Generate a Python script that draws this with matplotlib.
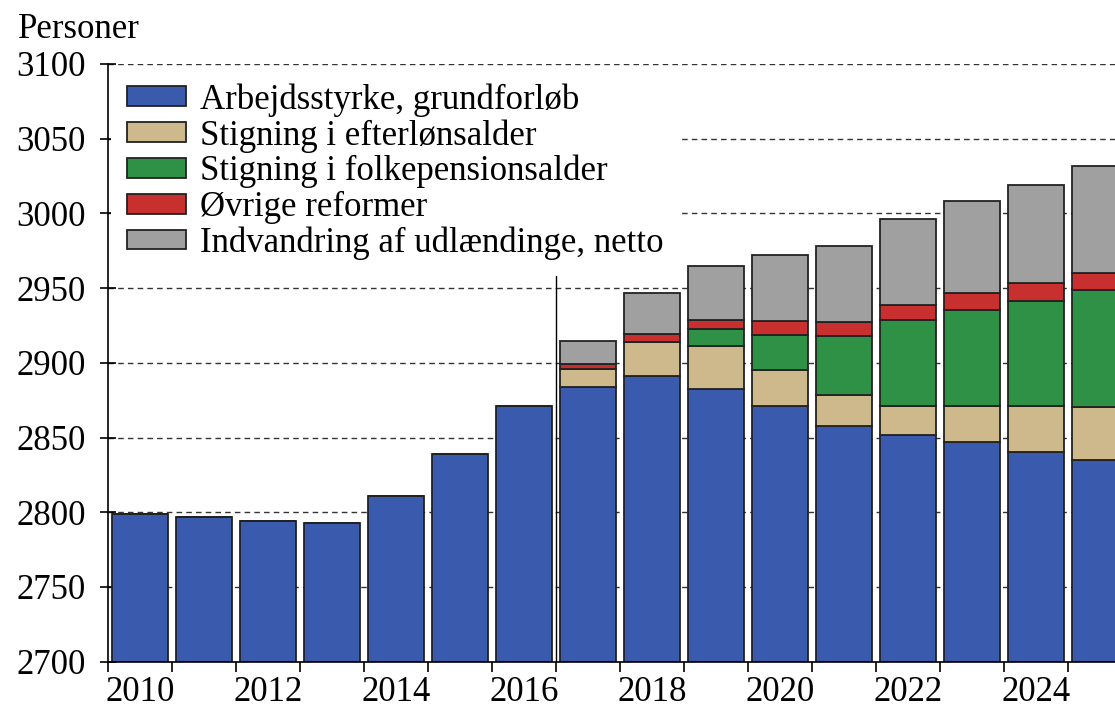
import numpy as np
import matplotlib.pyplot as plt

plt.rcParams['font.family'] = ['Liberation Serif', 'DejaVu Serif']

years = list(range(2010, 2026))

grundforlob = [2799, 2797, 2794, 2792.5, 2811, 2839, 2871, 2884, 2891.5, 2882.5,
               2871, 2858, 2852, 2847, 2840.5, 2835]
efterlon = [0, 0, 0, 0, 0, 0, 0, 12, 22.5, 28.5, 24, 20.5, 19, 24, 30.5, 35.5]
folkepension = [0, 0, 0, 0, 0, 0, 0, 0, 0, 11.5, 23.5, 39.5, 57.5, 64.5, 70.5, 78]
ovrige = [0, 0, 0, 0, 0, 0, 0, 3.5, 5, 6, 9.5, 9.5, 10.5, 11, 12, 11.5]
indvandring = [0, 0, 0, 0, 0, 0, 0, 15, 27.5, 36.5, 44, 50.5, 57.5, 62, 65.5, 72]

labels = ['Arbejdsstyrke, grundforløb', 'Stigning i efterlønsalder',
          'Stigning i folkepensionsalder', 'Øvrige reformer',
          'Indvandring af udlændinge, netto']
colors = ['#3A5AAD', '#CDB98C', '#2E9146', '#C83030', '#A0A0A0']

split_year = 2016.5
split_top = 2961

BASE = 2700
FS = 25

fig = plt.figure(figsize=(11.15, 7.09), dpi=100)
ax = fig.add_axes([108 / 1115, 1 - 661.7 / 709, 1024 / 1115, (661.7 - 64) / 709])

x = np.arange(len(years))
series = [np.array(grundforlob) - BASE, np.array(efterlon), np.array(folkepension),
          np.array(ovrige), np.array(indvandring)]
bottom = np.full(len(years), float(BASE))
handles = []
for vals, col, lab in zip(series, colors, labels):
    bars = ax.bar(x, vals, bottom=bottom, width=0.875, color=col,
                  edgecolor='#222222', linewidth=1.3, label=lab, zorder=2)
    handles.append(bars)
    bottom = bottom + vals

# skillelinje mellem historik og fremskrivning
xs = years.index(int(split_year + 0.5)) - 0.5
ax.plot([xs, xs], [BASE, split_top], color='black', linewidth=1.0, zorder=3)

ax.set_xlim(-0.5, len(years) - 0.5)
ax.set_ylim(2700, 3100)
ax.set_yticks(np.arange(2700, 3101, 50))
ax.yaxis.grid(True, linestyle=(0, (4, 3)), color='#333333', linewidth=1.0, zorder=0)
ax.set_axisbelow(True)

ax.set_xticks(np.arange(-0.5, len(years), 1.0))
ax.set_xticklabels([])
ax.set_xticks([i for i, y in enumerate(years) if y % 2 == 0], minor=True)
ax.set_xticklabels([str(y) for y in years if y % 2 == 0], minor=True)
ax.tick_params(axis='x', which='major', direction='out', length=7, width=1.2)
ax.tick_params(axis='x', which='minor', length=0, pad=10, labelsize=FS)
ax.tick_params(axis='y', direction='inout', length=12, width=1.2, pad=10, labelsize=FS)

for s in ['top', 'right']:
    ax.spines[s].set_visible(False)
for s in ['left', 'bottom']:
    ax.spines[s].set_linewidth(1.2)

leg = ax.legend(handles=handles, loc='upper left', fontsize=FS, frameon=True,
                fancybox=False, edgecolor='none', facecolor='white', framealpha=1,
                handlelength=1.7, handleheight=0.5, handletextpad=0.4,
                labelspacing=0.07, borderaxespad=0.1, borderpad=0.45)
leg.set_zorder(5)

fig.text(18 / 1115, 1 - 38 / 709, 'Personer', fontsize=FS, ha='left', va='baseline')

fig.savefig('out.png', dpi=100)
